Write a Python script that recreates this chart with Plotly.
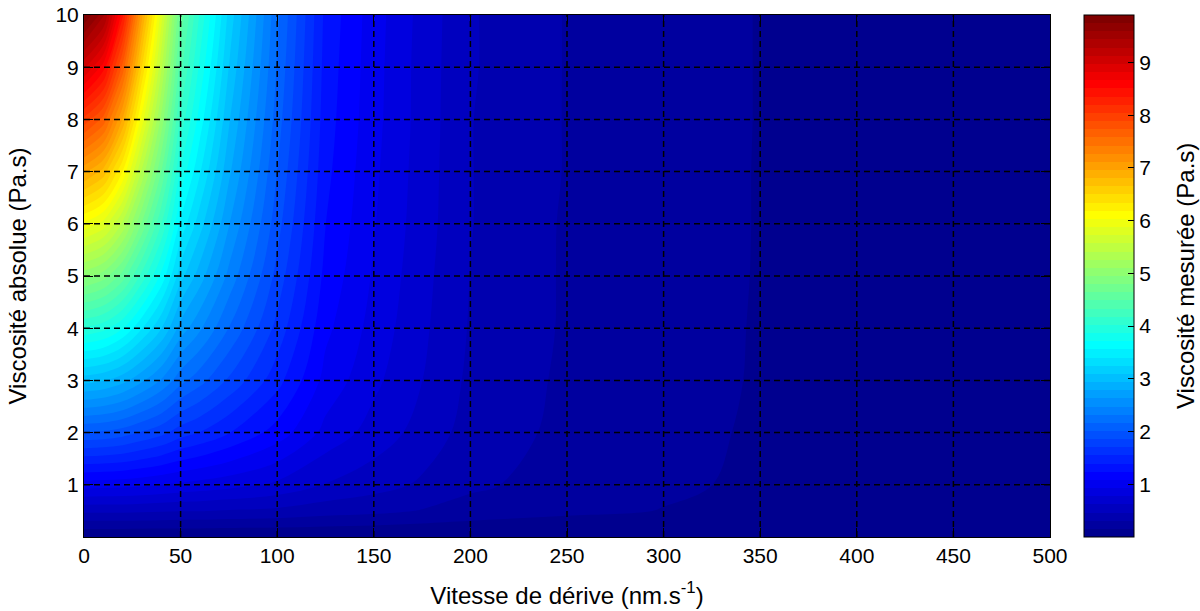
import plotly.graph_objects as go

# Sample grid: drift speed (nm/s) along x, absolute viscosity (Pa.s) along y
drift_speed = [0, 10, 20, 30, 40, 50, 60, 75, 100, 125, 150, 175, 200, 250, 300, 350, 400, 450, 500]
absolute_viscosity = [0, 0.5, 1, 2, 3, 4, 5, 6, 7, 8, 9, 10]

# Measured viscosity (Pa.s); one row per absolute viscosity, one column per drift speed
measured_viscosity = [
    [0.00, 0.00, 0.00, 0.00, 0.00, 0.00, 0.00, 0.00, 0.00, 0.00, 0.00, 0.00, 0.00, 0.00, 0.00, 0.000, 0.000, 0.000, 0.000],
    [0.50, 0.50, 0.50, 0.49, 0.48, 0.47, 0.47, 0.45, 0.43, 0.38, 0.35, 0.30, 0.25, 0.19, 0.15, 0.120, 0.094, 0.078, 0.065],
    [1.00, 0.99, 0.98, 0.96, 0.93, 0.90, 0.87, 0.83, 0.74, 0.61, 0.53, 0.44, 0.34, 0.24, 0.18, 0.130, 0.100, 0.084, 0.069],
    [2.00, 1.98, 1.93, 1.84, 1.75, 1.62, 1.54, 1.40, 1.17, 0.88, 0.71, 0.56, 0.40, 0.27, 0.19, 0.140, 0.110, 0.088, 0.072],
    [3.00, 2.95, 2.84, 2.66, 2.46, 2.22, 2.07, 1.83, 1.45, 1.03, 0.81, 0.62, 0.43, 0.28, 0.20, 0.145, 0.112, 0.089, 0.073],
    [4.00, 3.92, 3.72, 3.41, 3.10, 2.72, 2.50, 2.16, 1.65, 1.12, 0.87, 0.65, 0.45, 0.29, 0.20, 0.147, 0.113, 0.090, 0.073],
    [5.00, 4.87, 4.57, 4.12, 3.67, 3.15, 2.86, 2.43, 1.80, 1.19, 0.91, 0.67, 0.46, 0.29, 0.21, 0.148, 0.114, 0.090, 0.073],
    [6.00, 5.82, 5.38, 4.77, 4.18, 3.52, 3.16, 2.64, 1.92, 1.24, 0.94, 0.69, 0.47, 0.29, 0.21, 0.149, 0.114, 0.091, 0.074],
    [7.00, 6.75, 6.18, 5.38, 4.64, 3.84, 3.42, 2.82, 2.01, 1.28, 0.96, 0.70, 0.47, 0.30, 0.21, 0.149, 0.114, 0.091, 0.074],
    [8.00, 7.68, 6.94, 5.96, 5.06, 4.13, 3.64, 2.96, 2.09, 1.31, 0.98, 0.71, 0.47, 0.30, 0.21, 0.150, 0.115, 0.091, 0.074],
    [9.00, 8.59, 7.68, 6.49, 5.45, 4.38, 3.83, 3.09, 2.15, 1.33, 0.99, 0.71, 0.48, 0.30, 0.21, 0.150, 0.115, 0.091, 0.074],
    [9.90, 9.50, 8.40, 7.00, 5.80, 4.60, 4.00, 3.20, 2.20, 1.35, 1.00, 0.72, 0.48, 0.30, 0.21, 0.150, 0.116, 0.091, 0.074],
]

x_ticks = [0, 50, 100, 150, 200, 250, 300, 350, 400, 450, 500]
y_ticks = [1, 2, 3, 4, 5, 6, 7, 8, 9, 10]
cbar_ticks = [1, 2, 3, 4, 5, 6, 7, 8, 9]
color_min, color_max = 0.0, 9.9
n_colors = 64

FONT = "Liberation Sans, Arial, sans-serif"
TICK_FS = 21
TITLE_FS = 24

# plot area geometry (pixels)
W, H = 1200, 611
ML, MR, MT, MB = 84, 150, 15, 74
PLOT_W = W - ML - MR


def jet(n):
    """MATLAB-style jet colormap with n entries, as rgb strings."""
    m = -(-n // 4)
    u = [i / m for i in range(1, m + 1)] + [1.0] * (m - 1) + [i / m for i in range(m, 0, -1)]
    g0 = -(-n // 8) - (1 if n % 4 == 1 else 0)
    cols = [[0.0, 0.0, 0.0] for _ in range(n)]
    L = len(u)
    g_idx = [g0 + i for i in range(1, L + 1)]
    r_idx = [gi + m for gi in g_idx]
    b_idx = [gi - m for gi in g_idx]
    g_keep = [gi for gi in g_idx if gi <= n]
    r_keep = [ri for ri in r_idx if ri <= n]
    b_keep = [bi for bi in b_idx if bi >= 1]
    for k, ri in enumerate(r_keep):
        cols[ri - 1][0] = u[k]
    for k, gi in enumerate(g_keep):
        cols[gi - 1][1] = u[k]
    for k, bi in enumerate(b_keep):
        cols[bi - 1][2] = u[L - len(b_keep) + k]
    return ["rgb(%d,%d,%d)" % tuple(round(255 * c) for c in col) for col in cols]


jet64 = jet(n_colors)
step = (color_max - color_min) / n_colors

# band k of the filled contours takes colour k of the map
contour_scale = [[k / (n_colors - 1), c] for k, c in enumerate(jet64)]
# hard-edged version for the colour bar
bar_scale = []
for k, c in enumerate(jet64):
    bar_scale.append([k / n_colors, c])
    bar_scale.append([(k + 1) / n_colors, c])

fig = go.Figure()

fig.add_trace(go.Contour(
    x=drift_speed,
    y=absolute_viscosity,
    z=measured_viscosity,
    colorscale=contour_scale,
    autocontour=False,
    contours=dict(start=color_min + step, end=color_min + (n_colors - 1) * step,
                  size=step, coloring="fill", showlines=False),
    line=dict(width=0),
    showscale=False,
    hoverinfo="skip",
))

bar_left = (1084 - ML) / PLOT_W
bar_thick = 50

# colour bar
fig.add_trace(go.Scatter(
    x=[None], y=[None], mode="markers",
    marker=dict(
        color=[color_min], cmin=color_min, cmax=color_max,
        colorscale=bar_scale, showscale=True,
        colorbar=dict(
            x=bar_left, xanchor="left", xpad=0, ypad=0,
            y=0.5, yanchor="middle", len=1.0, lenmode="fraction",
            thickness=bar_thick, thicknessmode="pixels",
            outlinewidth=1, outlinecolor="black",
            tickvals=cbar_ticks, ticks="inside", ticklen=6, tickcolor="black",
            tickfont=dict(family=FONT, size=TICK_FS, color="black"),
        ),
    ),
    showlegend=False, hoverinfo="skip",
))

shapes = []
grid_line = dict(color="black", width=1.5, dash="6px,4px")
for xv in x_ticks[1:-1]:
    shapes.append(dict(type="line", xref="x", yref="y", x0=xv, x1=xv, y0=0, y1=10, line=grid_line))
for yv in y_ticks[:-1]:
    shapes.append(dict(type="line", xref="x", yref="y", x0=0, x1=500, y0=yv, y1=yv, line=grid_line))
# inner ticks on the left edge of the colour bar
for tv in cbar_ticks:
    yp = (tv - color_min) / (color_max - color_min)
    shapes.append(dict(type="line", xref="paper", yref="paper", x0=bar_left, x1=bar_left + 6 / PLOT_W,
                       y0=yp, y1=yp, line=dict(color="black", width=1)))

annotations = [
    dict(text="Viscosité mesurée (Pa.s)", xref="paper", yref="paper",
         x=(1185 - ML) / PLOT_W, y=0.5, xanchor="center", yanchor="middle",
         textangle=-90, showarrow=False,
         font=dict(family=FONT, size=TITLE_FS, color="black")),
]

axis_common = dict(
    ticks="inside", ticklen=9, tickcolor="black", tickwidth=1,
    showline=True, linecolor="black", linewidth=1, mirror="ticks",
    showgrid=False, zeroline=False, layer="above traces",
    tickfont=dict(family=FONT, size=TICK_FS, color="black"),
)

fig.update_layout(
    width=W, height=H,
    margin=dict(l=ML, r=MR, t=MT, b=MB, autoexpand=False),
    paper_bgcolor="white", plot_bgcolor="white",
    font=dict(family=FONT, size=TICK_FS, color="black"),
    showlegend=False,
    shapes=shapes,
    annotations=annotations,
    xaxis=dict(range=[0, 500], tickvals=x_ticks,
               title=dict(text="Vitesse de dérive (nm.s<sup>-1</sup>)", standoff=20,
                          font=dict(family=FONT, size=TITLE_FS, color="black")),
               **axis_common),
    yaxis=dict(range=[0, 10], tickvals=y_ticks,
               title=dict(text="Viscosité absolue (Pa.s)", standoff=22,
                          font=dict(family=FONT, size=TITLE_FS, color="black")),
               **axis_common),
)

fig.write_html("out.html")
